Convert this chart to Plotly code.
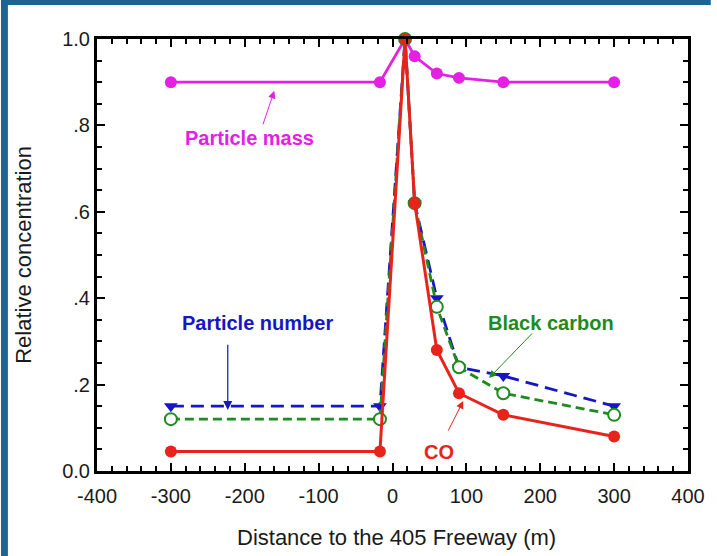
import plotly.graph_objects as go

# ---- data ----
distance = [-300, -17, 17, 30, 60, 90, 150, 300]
particle_mass = [0.90, 0.90, 1.00, 0.96, 0.92, 0.91, 0.90, 0.90]
particle_number = [0.15, 0.15, 1.00, 0.62, 0.40, 0.24, 0.22, 0.15]
black_carbon = [0.12, 0.12, 1.00, 0.62, 0.38, 0.24, 0.18, 0.13]
co = [0.045, 0.045, 1.00, 0.62, 0.28, 0.18, 0.13, 0.08]

x_ticks = [-400, -300, -200, -100, 0, 100, 200, 300, 400]
x_tick_text = ["-400", "-300", "-200", "-100", "0", "100", "200", "300", "400"]
y_ticks = [0.0, 0.2, 0.4, 0.6, 0.8, 1.0]
y_tick_text = ["0.0", ".2", ".4", ".6", ".8", "1.0"]

MAGENTA = "#e520e5"
BLUE = "#1616c4"
GREEN = "#1f8a1f"
RED = "#e8231c"
FONT = "Liberation Sans"
TXT = "#1a1a1a"

fig = go.Figure()
fig.add_trace(go.Scatter(x=distance, y=particle_mass, mode="lines+markers",
                         line=dict(color=MAGENTA, width=2.8),
                         marker=dict(symbol="circle", size=12, color=MAGENTA),
                         cliponaxis=False, name="Particle mass"))
fig.add_trace(go.Scatter(x=distance, y=particle_number, mode="lines+markers",
                         line=dict(color=BLUE, width=2.8, dash="13px,7px"),
                         marker=dict(symbol="triangle-down", size=12, color=BLUE),
                         cliponaxis=False, name="Particle number"))
fig.add_trace(go.Scatter(x=distance, y=black_carbon, mode="lines+markers",
                         line=dict(color=GREEN, width=2.8, dash="9px,5px"),
                         marker=dict(symbol="circle", size=12, color="white",
                                     line=dict(color=GREEN, width=2)),
                         cliponaxis=False, name="Black carbon"))
fig.add_trace(go.Scatter(x=distance, y=co, mode="lines+markers",
                         line=dict(color=RED, width=3),
                         marker=dict(symbol="circle", size=12, color=RED),
                         cliponaxis=False, name="CO"))

axis_common = dict(showline=True, linecolor="black", linewidth=3, mirror="allticks",
                   ticks="inside", ticklen=8, tickwidth=2, tickcolor="black",
                   showgrid=False, zeroline=False,
                   tickfont=dict(family=FONT, size=20, color=TXT))

fig.update_xaxes(range=[-400, 400], tickvals=x_ticks, ticktext=x_tick_text, **axis_common,
                 ticklabelstandoff=5,
                 minor=dict(dtick=20, ticks="inside", ticklen=5, tickwidth=1.5, tickcolor="black"))
fig.update_yaxes(range=[0, 1], tickvals=y_ticks, ticktext=y_tick_text, **axis_common,
                 minor=dict(dtick=0.05, ticks="inside", ticklen=5, tickwidth=1.5, tickcolor="black"))

ANN = 20
annotations = [
    dict(text="Particle mass", x=-193.6, y=0.771, showarrow=False,
         font=dict(family=FONT, size=ANN, color=MAGENTA, weight="bold")),
    dict(text="", x=-160, y=0.880, ax=-176, ay=0.799, axref="x", ayref="y",
         showarrow=True, arrowhead=2, arrowsize=1.5, arrowwidth=1, arrowcolor=MAGENTA),
    dict(text="Particle number", x=-182.9, y=0.3426, showarrow=False,
         font=dict(family=FONT, size=ANN, color=BLUE, weight="bold")),
    dict(text="", x=-223, y=0.141, ax=-223, ay=0.296, axref="x", ayref="y",
         showarrow=True, arrowhead=2, arrowsize=1.5, arrowwidth=1.2, arrowcolor=BLUE),
    dict(text="Black carbon", x=215, y=0.343, showarrow=False,
         font=dict(family=FONT, size=ANN, color=GREEN, weight="bold")),
    dict(text="", x=130.6, y=0.215, ax=191, ay=0.322, axref="x", ayref="y",
         showarrow=True, arrowhead=2, arrowsize=1.5, arrowwidth=1, arrowcolor=GREEN),
    dict(text="CO", x=63.6, y=0.044, showarrow=False,
         font=dict(family=FONT, size=ANN, color=RED, weight="bold")),
    dict(text="", x=95.8, y=0.162, ax=74.4, ay=0.09, axref="x", ayref="y",
         showarrow=True, arrowhead=2, arrowsize=1.5, arrowwidth=1, arrowcolor=RED),
    dict(text="Relative concentration", xref="paper", yref="paper", x=-0.1256, y=0.5,
         xanchor="center", yanchor="middle",
         textangle=-90, showarrow=False, font=dict(family=FONT, size=22, color=TXT)),
    dict(text="Distance to the 405 Freeway (m)", xref="paper", yref="paper", x=0.506, y=-0.155,
         xanchor="center", yanchor="middle",
         showarrow=False, font=dict(family=FONT, size=22, color=TXT)),
]

BORDER = "#1f6391"
shapes = [
    dict(type="rect", xref="paper", yref="paper", x0=-97 / 597, x1=-90 / 597,
         y0=-85 / 432, y1=1 + 39 / 432, fillcolor=BORDER, line=dict(width=0), layer="above"),
    dict(type="rect", xref="paper", yref="paper", x0=-97 / 597, x1=1 + 23 / 597,
         y0=1 + 34 / 432, y1=1 + 39 / 432, fillcolor=BORDER, line=dict(width=0), layer="above"),
]

fig.update_layout(width=717, height=556, margin=dict(l=97, r=23, t=39, b=85),
                  paper_bgcolor="white", plot_bgcolor="white", showlegend=False,
                  annotations=annotations, shapes=shapes)

fig.write_html("out.html")
